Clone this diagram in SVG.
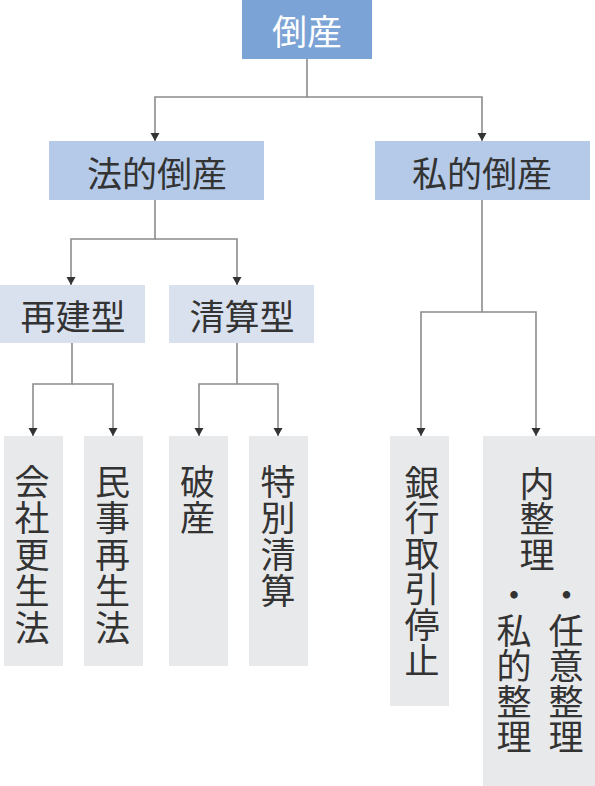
<svg xmlns="http://www.w3.org/2000/svg" width="595" height="786" viewBox="0 0 595 786">
<style>
text{font-family:"Noto Sans CJK JP","Noto Sans",sans-serif;font-size:35px;fill:#333;text-anchor:middle;dominant-baseline:central}
.c{fill:none;stroke:#8c8c8c;stroke-width:1.6}
.l1{fill:#7ba3d5}.l2{fill:#b4cae8}.l3{fill:#d9e1ee}.l4{fill:#e8e9eb}
.w{fill:#fff}
</style>
<defs>
<marker id="b" markerUnits="userSpaceOnUse" markerWidth="10" markerHeight="9" refX="5" refY="8" orient="0" viewBox="0 0 10 9">
<path d="M0.5,0 L9.5,0 L5,8 Z" fill="#333"/>
</marker>
</defs>
<g id="connectors">
<path class="c" d="M307,59 V97 H155 V141" marker-end="url(#b)"/>
<path class="c" d="M307,97 H482 V141" marker-end="url(#b)"/>
<path class="c" d="M155,200 V239 H71 V285" marker-end="url(#b)"/>
<path class="c" d="M155,239 H237 V285" marker-end="url(#b)"/>
<path class="c" d="M72,343 V384 H33 V436" marker-end="url(#b)"/>
<path class="c" d="M72,384 H113 V436" marker-end="url(#b)"/>
<path class="c" d="M237,343 V384 H199 V436" marker-end="url(#b)"/>
<path class="c" d="M237,384 H278 V436" marker-end="url(#b)"/>
<path class="c" d="M482,200 V312 H421 V436" marker-end="url(#b)"/>
<path class="c" d="M482,312 H536 V436" marker-end="url(#b)"/>
</g>
<g id="root"><rect class="l1" x="242" y="0" width="130" height="59"/><text class="w" x="307" y="29.5">倒産</text></g>
<g id="houteki"><rect class="l2" x="49" y="141" width="215" height="59"/><text x="157" y="171">法的倒産</text></g>
<g id="shiteki"><rect class="l2" x="375" y="141" width="215" height="59"/><text x="482" y="171">私的倒産</text></g>
<g id="saiken"><rect class="l3" x="0" y="285" width="145" height="58"/><text x="73" y="314">再建型</text></g>
<g id="seisan"><rect class="l3" x="169" y="285" width="145" height="58"/><text x="242" y="314">清算型</text></g>
<g id="kaisha"><rect class="l4" x="4" y="436" width="59" height="230"/>
<text x="32" y="479">会</text><text x="32" y="515.5">社</text><text x="32" y="552">更</text><text x="32" y="588.5">生</text><text x="32" y="625">法</text></g>
<g id="minji"><rect class="l4" x="84" y="436" width="59" height="230"/>
<text x="112.5" y="479">民</text><text x="112.5" y="515.5">事</text><text x="112.5" y="552">再</text><text x="112.5" y="588.5">生</text><text x="112.5" y="625">法</text></g>
<g id="hasan"><rect class="l4" x="169" y="436" width="59" height="230"/>
<text x="197.5" y="479">破</text><text x="197.5" y="515.5">産</text></g>
<g id="tokubetsu"><rect class="l4" x="249" y="436" width="59" height="230"/>
<text x="278" y="479">特</text><text x="278" y="515.5">別</text><text x="278" y="552">清</text><text x="278" y="588.5">算</text></g>
<g id="ginko"><rect class="l4" x="390" y="436" width="59" height="270"/>
<text x="422" y="480">銀</text><text x="422" y="515.6">行</text><text x="422" y="551.2">取</text><text x="422" y="586.8">引</text><text x="422" y="622.4">停</text><text x="422" y="658">止</text></g>
<g id="naiseiri"><rect class="l4" x="483" y="436" width="112" height="350"/>
<text x="537" y="481">内</text><text x="537" y="516.5">整</text><text x="537" y="552">理</text>
<text x="514" y="592">・</text><text x="566.5" y="592">・</text>
<text x="514" y="628">私</text><text x="514" y="663.5">的</text><text x="514" y="699">整</text><text x="514" y="734.5">理</text>
<text x="566" y="628">任</text><text x="566" y="663.5">意</text><text x="566" y="699">整</text><text x="566" y="734.5">理</text></g>
</svg>
